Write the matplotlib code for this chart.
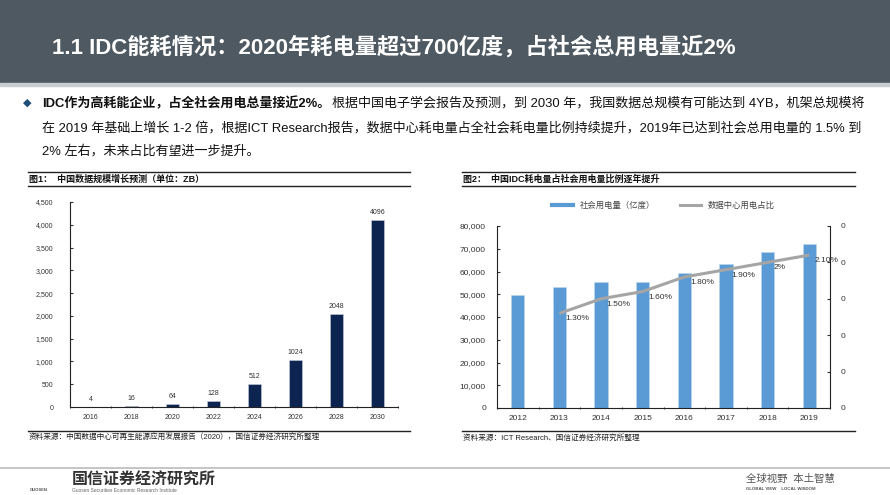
import numpy as np
import matplotlib
matplotlib.use("Agg")
import matplotlib.pyplot as plt
from matplotlib.patches import Rectangle
from matplotlib.lines import Line2D
from matplotlib.ticker import FuncFormatter, FixedLocator

plt.rcParams['font.family'] = ['Liberation Sans', 'Noto Sans CJK SC', 'DejaVu Sans']

# data
years_left = ['2016', '2018', '2020', '2022', '2024', '2026', '2028', '2030']
data_zb = [4, 16, 64, 128, 512, 1024, 2048, 4096]

years_right = ['2012', '2013', '2014', '2015', '2016', '2017', '2018', '2019']
power_use = [49591, 53223, 55233, 55500, 59198, 63077, 68449, 72255]
idc_share = [np.nan, 0.013, 0.015, 0.016, 0.018, 0.019, 0.020, 0.021]
share_labels = ['', '1.30%', '1.50%', '1.60%', '1.80%', '1.90%', '2%', '2.10%']

title = '1.1 IDC能耗情况：2020年耗电量超过700亿度，占社会总用电量近2%'
para_bold = 'IDC作为高耗能企业，占全社会用电总量接近2%。'
para_1 = '根据中国电子学会报告及预测，到 2030 年，我国数据总规模有可能达到 4YB，机架总规模将'
para_2 = '在 2019 年基础上增长 1-2 倍，根据ICT Research报告，数据中心耗电量占全社会耗电量比例持续提升，2019年已达到社会总用电量的 1.5% 到'
para_3 = '2% 左右，未来占比有望进一步提升。'
fig1_title = '图1：  中国数据规模增长预测（单位：ZB）'
fig2_title = '图2：  中国IDC耗电量占社会用电量比例逐年提升'
src1 = '资料来源：中国数据中心可再生能源应用发展报告（2020），国信证券经济研究所整理'
src2 = '资料来源：ICT Research、国信证券经济研究所整理'

W, H = 890, 495
fig = plt.figure(figsize=(W / 100, H / 100), dpi=100)

bg = fig.add_axes([0, 0, 1, 1], zorder=0)
bg.set_xlim(0, W)
bg.set_ylim(H, 0)
bg.axis('off')


def px_axes(l, t, r, b):
    return fig.add_axes([l / W, 1 - b / H, (r - l) / W, (b - t) / H], zorder=2)


# header band
bg.add_patch(Rectangle((0, 0), W, 83, color='#4e5961'))
bg.add_patch(Rectangle((0, 83), W, 3, color='#c9cdd0'))
bg.text(52, 47, title, color='white', fontsize=16, fontweight='bold', va='center', ha='left')

# paragraph
bg.text(27, 103, '\u25c6', color='#1f4e79', fontsize=8, va='center', ha='center', family='DejaVu Sans')
t0 = bg.text(42, 103, para_bold, fontsize=9.4, fontweight='bold', va='center', ha='left', color='#111111')
fig.canvas.draw()
ext = t0.get_window_extent(fig.canvas.get_renderer())
x_end = bg.transData.inverted().transform((ext.x1, 0))[0]
bg.text(x_end + 2, 103, para_1, fontsize=9.4, va='center', ha='left', color='#111111')
bg.text(42, 128, para_2, fontsize=9.4, va='center', ha='left', color='#111111')
bg.text(42, 151, para_3, fontsize=9.4, va='center', ha='left', color='#111111')

# chart title bars and source lines
for x0, x1, ttl, src in [(28, 410, fig1_title, src1), (462, 855, fig2_title, src2)]:
    bg.plot([x0, x1], [172, 172], color='#222222', lw=1)
    bg.plot([x0, x1], [186, 186], color='#222222', lw=1)
    bg.text(x0 + 1, 179.5, ttl, fontsize=6.5, fontweight='bold', va='center', ha='left', color='#111111')
    bg.plot([x0, x1], [431, 431], color='#222222', lw=1)
    bg.text(x0 + 1, 438, src, fontsize=5.5, va='center', ha='left', color='#222222')

# footer
bg.plot([0, W], [468, 468], color='#bbbbbb', lw=1.2)
bg.text(72, 480, '国信证券经济研究所', fontsize=11.5, fontweight='bold', va='center', ha='left', color='#333333')
bg.text(30, 490, 'GUOSEN', fontsize=3, fontweight='bold', va='center', ha='left', color='#555555')
bg.text(72, 490, 'Guosen Securities Economic Research Institute', fontsize=3.5, va='center', ha='left', color='#666666')
bg.text(746, 479, '全球视野  本土智慧', fontsize=7.5, style='italic', va='center', ha='left', color='#555555')
bg.text(746, 489, 'GLOBAL VIEW    LOCAL WISDOM', fontsize=3.2, fontweight='bold', va='center', ha='left', color='#555555')

tick_color = '#333333'

# left chart
ax1 = px_axes(70, 202, 398, 407)
x1 = np.arange(len(years_left))
ax1.bar(x1, data_zb, width=0.32, color='#0d2350', edgecolor='#c8d0e0', linewidth=0.4)
for xi, v in zip(x1, data_zb):
    ax1.text(xi, v + 90, str(v), fontsize=5, ha='center', va='bottom', color=tick_color)
ax1.set_xlim(-0.5, len(years_left) - 0.5)
ax1.set_ylim(0, 4500)
ax1.set_yticks(np.arange(0, 4501, 500))
ax1.yaxis.set_major_formatter(FuncFormatter(lambda v, p: f'{int(v):,}'))
ax1.set_xticks(x1)
ax1.set_xticklabels(years_left)
ax1.xaxis.set_minor_locator(FixedLocator(np.arange(-0.5, len(years_left), 1)))
ax1.tick_params(axis='x', which='major', length=0, labelsize=5, colors=tick_color, pad=5)
ax1.tick_params(axis='x', which='minor', length=2, direction='inout', color='#222222')
ax1.tick_params(axis='y', length=2, direction='in', labelsize=5, colors=tick_color, pad=12)
for s in ['top', 'right']:
    ax1.spines[s].set_visible(False)
for s in ['left', 'bottom']:
    ax1.spines[s].set_color('#222222')
    ax1.spines[s].set_linewidth(0.8)

# right chart
ax2 = px_axes(497, 226, 830, 408)
x2 = np.arange(len(years_right))
ax2.bar(x2, power_use, width=0.32, color='#5b9bd5', edgecolor='#bdd7ee', linewidth=0.4)
ax2.set_xlim(-0.5, len(years_right) - 0.5)
ax2.set_ylim(0, 80000)
ax2.set_yticks(np.arange(0, 80001, 10000))
ax2.yaxis.set_major_formatter(FuncFormatter(lambda v, p: f'{int(v):,}'))
ax2.set_xticks(x2)
ax2.set_xticklabels(years_right)
ax2.xaxis.set_minor_locator(FixedLocator(np.arange(-0.5, len(years_right), 1)))
ax2.tick_params(axis='x', which='major', length=0, labelsize=6, colors=tick_color, pad=5)
ax2.tick_params(axis='x', which='minor', length=2, direction='inout', color='#222222')
ax2.tick_params(axis='y', length=2, direction='in', labelsize=6, colors=tick_color, pad=8)
ax2.spines['top'].set_visible(False)
ax2.spines['right'].set_visible(False)
for s in ['left', 'bottom']:
    ax2.spines[s].set_color('#222222')
    ax2.spines[s].set_linewidth(0.8)

ax3 = ax2.twinx()
ax3.plot(x2, idc_share, color='#a5a5a5', lw=2.2, solid_capstyle='butt')
for xi, v, lab in zip(x2, idc_share, share_labels):
    if lab:
        ax3.annotate(lab, (xi, v), xytext=(4, -4), textcoords='offset points',
                     fontsize=6, ha='left', va='center', color=tick_color)
ax3.set_ylim(0, 0.025)
ax3.set_yticks(np.arange(0, 0.0251, 0.005))
ax3.yaxis.set_major_formatter(FuncFormatter(lambda v, p: '0'))
ax3.tick_params(axis='y', length=2, direction='in', labelsize=6, colors=tick_color, pad=8)
for s in ['top', 'left', 'bottom']:
    ax3.spines[s].set_visible(False)
ax3.spines['right'].set_color('#222222')
ax3.spines['right'].set_linewidth(0.8)

handles = [Line2D([], [], color='#5b9bd5', lw=3), Line2D([], [], color='#a5a5a5', lw=2.2)]
ax2.legend(handles, ['社会用电量（亿度）', '数据中心用电占比'], loc='center',
           bbox_to_anchor=(0.5, 1.11), ncol=2, frameon=False, fontsize=6,
           handlelength=2.5, columnspacing=3, labelcolor='#444444')

fig.savefig('out.png', dpi=100)
